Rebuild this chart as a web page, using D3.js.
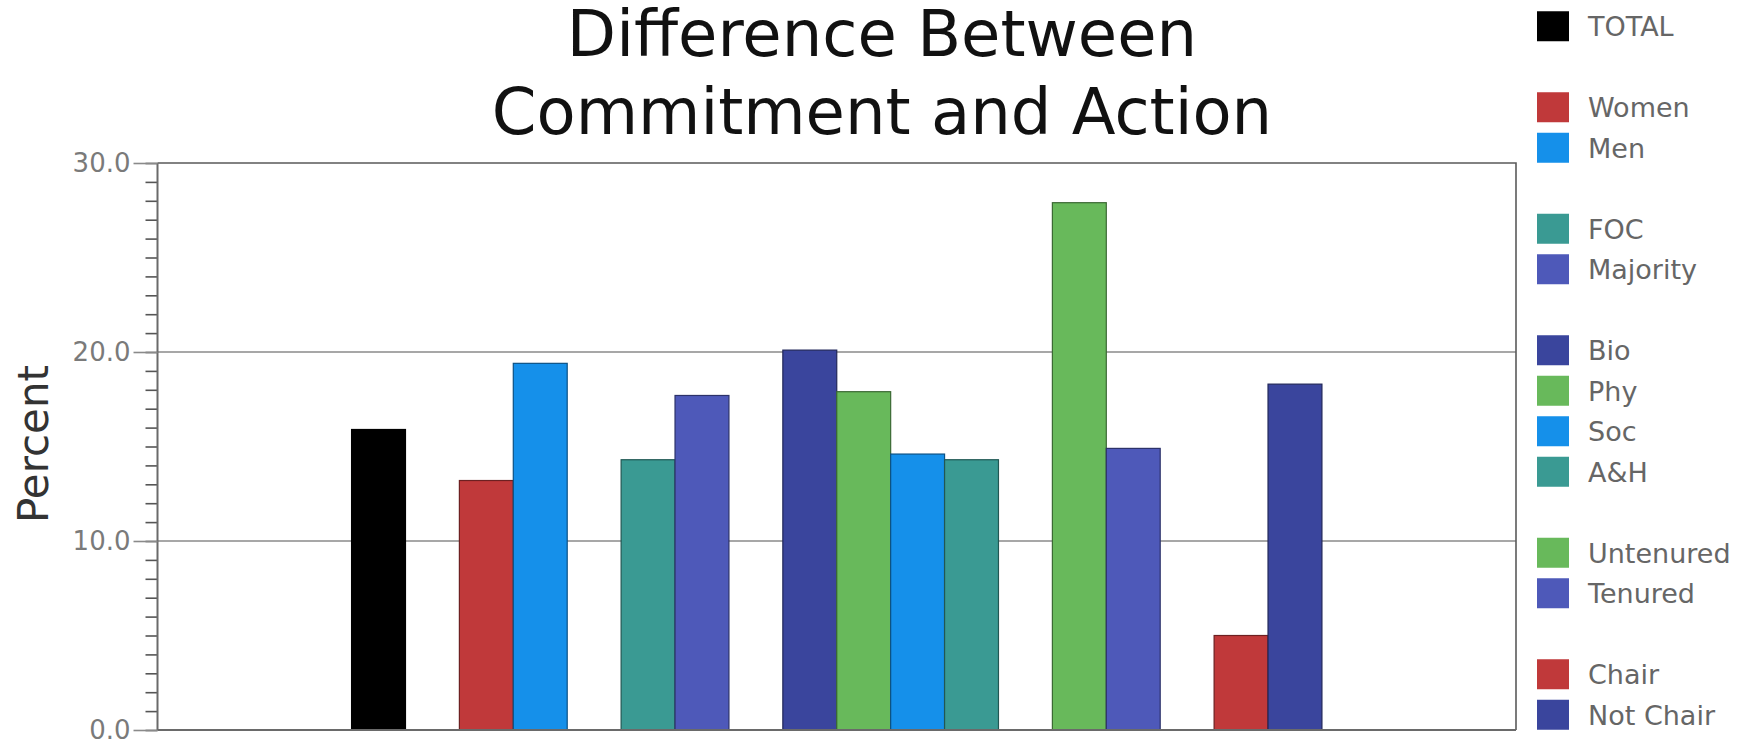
<!doctype html>
<html>
<head>
    <script src="https://d3js.org/d3.v7.min.js"></script>
    <style>
        body { margin: 0; background: #fff; }
        text { font-family: "DejaVu Sans", Verdana, sans-serif; }
    </style>
</head>
<body>
    <script>
        var width = 1752;
        var height = 745;

        // data
        var groups = ["Total", "Gender", "Race", "Discipline", "Tenure", "Chair"];
        var categories = ["TOTAL", "Women", "Men", "FOC", "Majority", "Bio", "Phy", "Soc", "A&H", "Untenured", "Tenured", "Chair", "Not Chair"];
        var categoryGroup = ["Total", "Gender", "Gender", "Race", "Race", "Discipline", "Discipline", "Discipline", "Discipline", "Tenure", "Tenure", "Chair", "Chair"];
        var values = [15.9, 13.2, 19.4, 14.3, 17.7, 20.1, 17.9, 14.6, 14.3, 27.9, 14.9, 5.0, 18.3];
        var colors = ["#000000", "#c0393a", "#1590ea", "#3a9a93", "#4e59b9", "#3a459d", "#68b95b", "#1590ea", "#3a9a93", "#68b95b", "#4e59b9", "#c0393a", "#3a459d"];
        var yTicks = [0, 10, 20, 30];

        var plot = {left: 157.5, right: 1516, top: 163, bottom: 730};

        // slots: one per bar, with an empty slot between groups
        var slots = [];
        groups.forEach(function(g, gi){
            if (gi > 0) slots.push("gap-" + gi);
            categories.forEach(function(c, i){
                if (categoryGroup[i] === g) slots.push(c);
            });
        });

        var details = categories.map(function(c, i){
            return {name: c, value: values[i], color: colors[i]};
        });

        var xScale = d3.scaleBand()
                       .domain(slots)
                       .range([plot.left, plot.right])
                       .paddingInner(0)
                       .paddingOuter(3.6);
        var yScale = d3.scaleLinear()
                       .domain([0, 30])
                       .range([plot.bottom, plot.top]);

        var svg = d3.select("body")
                    .append("svg")
                    .attr("width", width)
                    .attr("height", height);

        // grid lines
        svg.selectAll("line.grid")
           .data(yTicks.filter(function(d){ return d > 0 && d < 30; }))
           .enter()
           .append("line")
           .attr("class", "grid")
           .attr("x1", plot.left)
           .attr("x2", plot.right)
           .attr("y1", function(d){ return yScale(d); })
           .attr("y2", function(d){ return yScale(d); })
           .style("stroke", "#8a8a8a")
           .style("stroke-width", 1.6);

        // top and right border
        svg.append("path")
           .attr("d", "M" + plot.left + "," + plot.top + "H" + plot.right + "V" + plot.bottom)
           .style("fill", "none")
           .style("stroke", "#5a5a5a")
           .style("stroke-width", 1.6);

        // bars
        svg.selectAll("rect.bar")
           .data(details)
           .enter()
           .append("rect")
           .attr("class", "bar")
           .attr("x", function(d){ return xScale(d.name); })
           .attr("y", function(d){ return yScale(d.value); })
           .attr("width", xScale.bandwidth())
           .attr("height", function(d){ return yScale(0) - yScale(d.value); })
           .style("fill", function(d){ return d.color; })
           .style("stroke", function(d){ return d3.color(d.color).darker(1.6); })
           .style("stroke-width", 1.2);

        // bottom axis line
        svg.append("line")
           .attr("x1", plot.left)
           .attr("x2", plot.right)
           .attr("y1", plot.bottom)
           .attr("y2", plot.bottom)
           .style("stroke", "#6a6a6a")
           .style("stroke-width", 2);

        // minor ticks
        var yAxisMinor = d3.axisLeft(yScale)
                           .tickValues(d3.range(0, 31, 1))
                           .tickSize(12)
                           .tickFormat("");
        var gMinor = svg.append("g")
                        .attr("transform", "translate(" + plot.left + ",0)")
                        .call(yAxisMinor);
        gMinor.select(".domain").remove();
        gMinor.selectAll("line").style("stroke", "#555").style("stroke-width", 1.6);

        // major ticks and labels
        var yAxis = d3.axisLeft(yScale)
                      .tickValues(yTicks)
                      .tickSize(24)
                      .tickPadding(3)
                      .tickFormat(d3.format(".1f"));
        var gAxis = svg.append("g")
                       .attr("transform", "translate(" + plot.left + ",0)")
                       .call(yAxis);
        gAxis.select(".domain")
             .attr("d", "M0," + plot.top + "V" + plot.bottom)
             .style("stroke", "#6a6a6a")
             .style("stroke-width", 2);
        gAxis.selectAll(".tick line").style("stroke", "#8a8a8a").style("stroke-width", 1.6);
        gAxis.selectAll(".tick text")
             .style("font-size", "26px")
             .style("font-family", "DejaVu Sans")
             .style("fill", "#7a7a7a");

        // y axis title
        svg.append("text")
           .attr("transform", "translate(48," + 444 + ") rotate(-90)")
           .attr("text-anchor", "middle")
           .style("font-size", "42px")
           .style("fill", "#333")
           .text("Percent");

        // chart title
        var title = ["Difference Between", "Commitment and Action"];
        svg.selectAll("text.title")
           .data(title)
           .enter()
           .append("text")
           .attr("class", "title")
           .attr("x", 882)
           .attr("y", function(d, i){ return 56 + i * 78; })
           .attr("text-anchor", "middle")
           .style("font-size", "64px")
           .style("fill", "#111")
           .text(function(d){ return d; });

        // legend, same slot layout as the bars
        var legendScale = d3.scaleBand()
                            .domain(slots)
                            .range([6, 735]);
        var legend = svg.selectAll("g.legend")
                        .data(details)
                        .enter()
                        .append("g")
                        .attr("class", "legend")
                        .attr("transform", function(d){
                            return "translate(1537," + (legendScale(d.name) + legendScale.bandwidth() / 2) + ")";
                        });
        legend.append("rect")
              .attr("x", 0)
              .attr("y", -15)
              .attr("width", 32)
              .attr("height", 30)
              .style("fill", function(d){ return d.color; });
        legend.append("text")
              .attr("x", 51)
              .attr("y", 10)
              .style("font-size", "27px")
              .style("fill", "#666")
              .text(function(d){ return d.name; });
    </script>
</body>
</html>
